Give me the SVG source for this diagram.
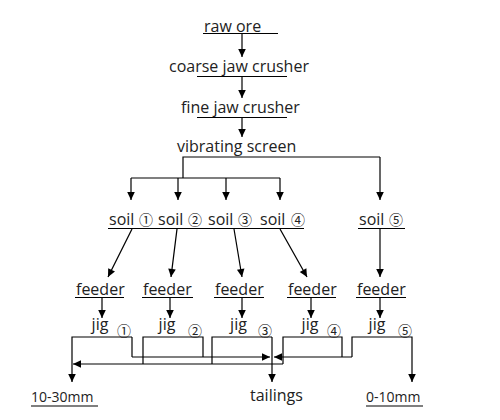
<svg xmlns="http://www.w3.org/2000/svg" width="500" height="420" viewBox="0 0 500 420">
<defs>
<marker id="ah" markerUnits="userSpaceOnUse" markerWidth="10" markerHeight="10" viewBox="0 0 10 10" refX="9" refY="5" orient="auto">
<path d="M1,1.2 L9,5 L1,8.8 Z" fill="#000"/>
</marker>
<style>
text{font-family:"Open Sans","Liberation Sans",sans-serif;font-size:16px;fill:#222}
.c{font-family:"Noto Sans CJK SC","Noto Sans",sans-serif;font-size:14px}
.s{font-size:14px}
.m{text-anchor:middle}
line,polyline{stroke:#000;stroke-width:1.2;fill:none}
.a{marker-end:url(#ah)}
</style>
</defs>
<rect width="500" height="420" fill="#fff"/>
<g id="raw-ore"><text x="204" y="32">raw ore</text><line x1="203" y1="33.5" x2="278" y2="33.5"/></g>
<g id="coarse-jaw-crusher"><text x="169" y="72">coarse jaw crusher</text><line x1="197" y1="76.5" x2="287" y2="76.5"/></g>
<g id="fine-jaw-crusher"><text x="181" y="113">fine jaw crusher</text><line x1="197" y1="117.5" x2="287" y2="117.5"/></g>
<g id="vibrating-screen"><text x="177" y="152">vibrating screen</text></g>
<g id="soil1"><text x="109" y="225">soil</text><text class="c" x="139" y="225">①</text></g>
<g id="soil2"><text x="158" y="225">soil</text><text class="c" x="188" y="225">②</text></g>
<g id="soil3"><text x="208" y="225">soil</text><text class="c" x="238" y="225">③</text></g>
<g id="soil4"><text x="260" y="225">soil</text><text class="c" x="291" y="225">④</text></g>
<line x1="108" y1="228.5" x2="304" y2="228.5"/>
<g id="soil5"><text x="359" y="225">soil</text><text class="c" x="389" y="225">⑤</text><line x1="358" y1="228.5" x2="405" y2="228.5"/></g>
<g id="feeder1"><text x="76" y="295">feeder</text><line x1="75" y1="297.5" x2="124" y2="297.5"/></g>
<g id="feeder2"><text x="143" y="295">feeder</text><line x1="142" y1="297.5" x2="193" y2="297.5"/></g>
<g id="feeder3"><text x="215" y="295">feeder</text><line x1="214" y1="297.5" x2="264" y2="297.5"/></g>
<g id="feeder4"><text x="288" y="295">feeder</text><line x1="287" y1="297.5" x2="336" y2="297.5"/></g>
<g id="feeder5"><text x="357" y="295">feeder</text><line x1="356" y1="297.5" x2="406" y2="297.5"/></g>
<g id="jig1"><text class="m" x="100" y="330">jig</text><text class="c m" x="124" y="336">①</text></g>
<g id="jig2"><text class="m" x="167" y="330">jig</text><text class="c m" x="195" y="336">②</text></g>
<g id="jig3"><text class="m" x="238.5" y="330">jig</text><text class="c m" x="265" y="336">③</text></g>
<g id="jig4"><text class="m" x="310" y="330">jig</text><text class="c m" x="334" y="336">④</text></g>
<g id="jig5"><text class="m" x="377" y="330">jig</text><text class="c m" x="405" y="336">⑤</text></g>
<g id="out-coarse"><text class="s" x="31" y="402">10-30mm</text><line x1="31" y1="406" x2="98" y2="406"/></g>
<g id="tailings"><text x="250" y="401">tailings</text></g>
<g id="out-fine"><text class="s" x="366" y="402">0-10mm</text><line x1="366" y1="406" x2="423" y2="406"/></g>
<g id="connectors">
<line class="a" x1="242" y1="34" x2="242" y2="57"/>
<line class="a" x1="242" y1="77" x2="242" y2="98"/>
<line class="a" x1="242" y1="118" x2="242" y2="137"/>
<polyline points="183,178 183,157 380,157"/>
<line class="a" x1="380" y1="157" x2="380" y2="200"/>
<line x1="131" y1="178" x2="280" y2="178"/>
<line class="a" x1="131" y1="178" x2="131" y2="200"/>
<line class="a" x1="178" y1="178" x2="178" y2="200"/>
<line class="a" x1="226" y1="178" x2="226" y2="200"/>
<line class="a" x1="280" y1="178" x2="280" y2="200"/>
<line class="a" x1="132" y1="229" x2="108" y2="277"/>
<line class="a" x1="177" y1="229" x2="171" y2="277"/>
<line class="a" x1="234" y1="229" x2="242" y2="277"/>
<line class="a" x1="280" y1="229" x2="307" y2="277"/>
<line class="a" x1="380" y1="229" x2="380" y2="277"/>
<line class="a" x1="102" y1="298" x2="102" y2="318"/>
<line class="a" x1="170" y1="298" x2="170" y2="318"/>
<line class="a" x1="242" y1="298" x2="242" y2="318"/>
<line class="a" x1="311" y1="298" x2="311" y2="318"/>
<line class="a" x1="380" y1="298" x2="380" y2="318"/>
<polyline class="a" points="132,337 72,337 72,382"/>
<polyline points="132,337 132,357"/>
<polyline points="143,364 143,337 203,337 203,357"/>
<polyline points="212,364 212,337 272,337"/>
<line class="a" x1="272" y1="337" x2="272" y2="382"/>
<polyline points="283,364 283,337 342,337 342,357"/>
<polyline class="a" points="352,357 352,337 412,337 412,382"/>
<line class="a" x1="132" y1="357" x2="270" y2="357"/>
<line class="a" x1="352" y1="357" x2="274" y2="357"/>
<line class="a" x1="283" y1="364" x2="73" y2="364"/>
</g>
</svg>
